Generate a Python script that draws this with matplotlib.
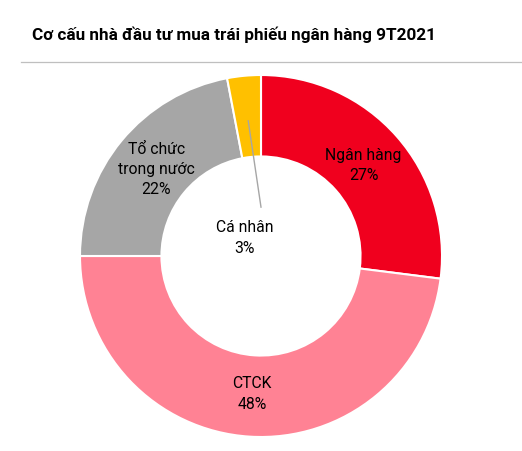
import numpy as np
import matplotlib.pyplot as plt
from matplotlib.lines import Line2D

labels = ['Ngân hàng', 'CTCK', 'Tổ chức\ntrong nước', 'Cá nhân']
shares = [27, 48, 22, 3]
colors = ['#F0001E', '#FF8294', '#A6A6A6', '#FFC000']

plt.rcParams['font.family'] = ['Roboto', 'DejaVu Sans']

fig = plt.figure(figsize=(5.22, 4.51), dpi=100)
fig.text(32 / 522, 1 - 35 / 451, 'Cơ cấu nhà đầu tư mua trái phiếu ngân hàng 9T2021',
         fontsize=12.3, fontweight='bold', va='center', ha='left')
fig.add_artist(Line2D([21 / 522, 1], [1 - 62 / 451, 1 - 62 / 451],
                      color='#BFBFBF', lw=0.9))

ax = fig.add_axes([80 / 522, 14 / 451, 362 / 522, 362 / 451])
wedges, _ = ax.pie(shares, startangle=90, counterclock=False, colors=colors,
                   radius=1, wedgeprops=dict(width=0.45, edgecolor='white', linewidth=1.5))
ax.set_xlim(-1, 1)
ax.set_ylim(-1, 1)
ax.set_aspect('equal')
ax.axis('off')

# label radius per slice (fraction of outer radius)
rads = [0.755, 0.765, 0.75, None]
for w, lab, v, r in zip(wedges, labels, shares, rads):
    ang = np.deg2rad((w.theta1 + w.theta2) / 2)
    if r is None:
        # small slice: leader line to center
        x0, y0 = 0.75 * np.cos(ang), 0.75 * np.sin(ang)
        ax.plot([x0, -0.0], [y0, 0.27], color='#A6A6A6', lw=1)
        ax.text(-0.09, 0.10, f'{lab}\n{v}%', ha='center', va='center',
                fontsize=11.3, linespacing=1.45)
    else:
        ax.text(r * np.cos(ang), r * np.sin(ang), f'{lab}\n{v}%',
                ha='center', va='center', fontsize=11.3, linespacing=1.45)

fig.savefig('out.png', dpi=100)
